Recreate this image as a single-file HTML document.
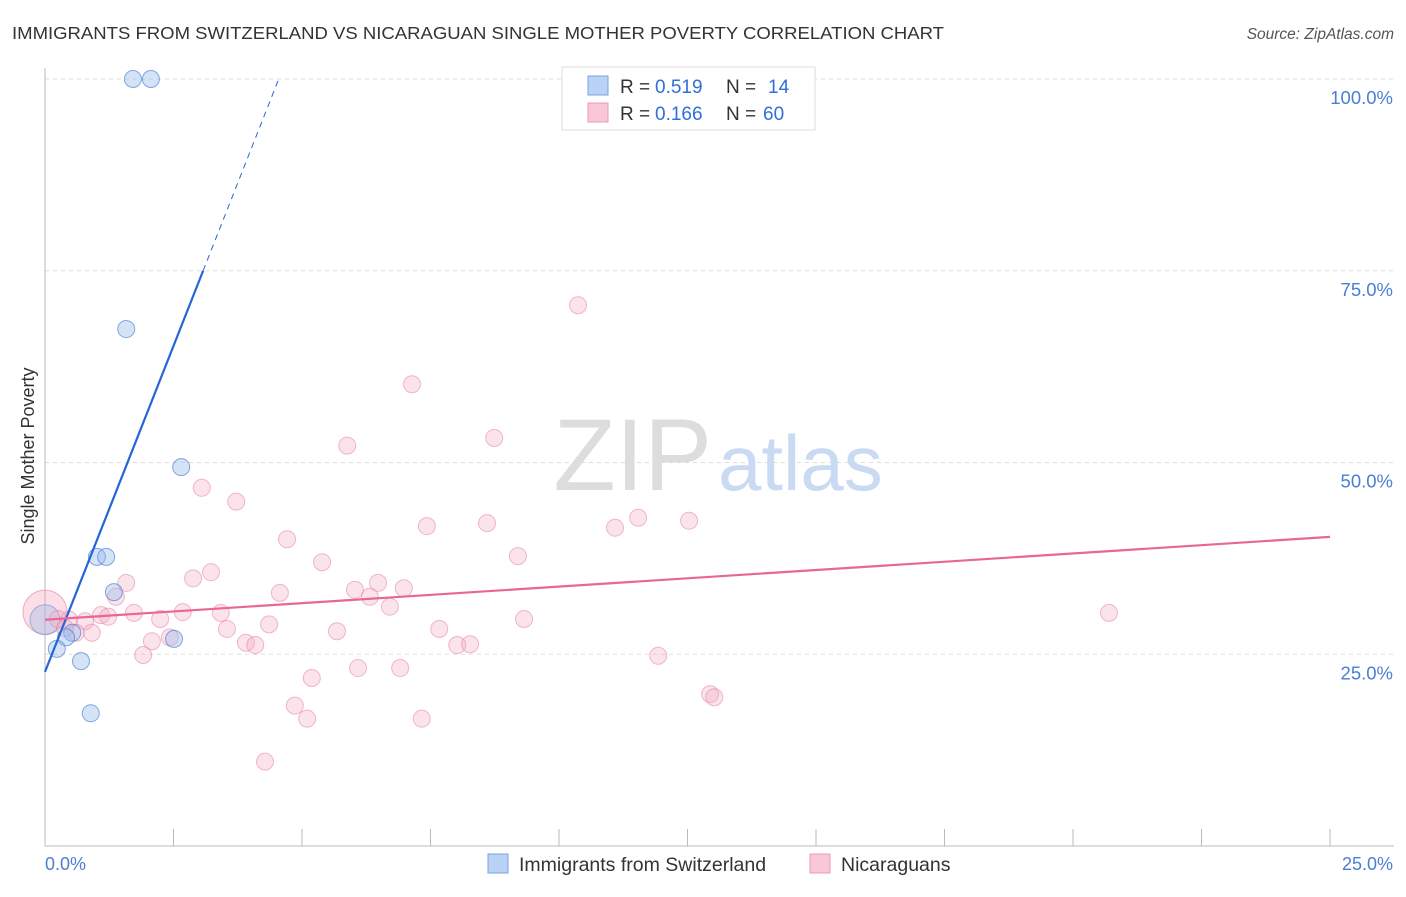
<!DOCTYPE html>
<html><head><meta charset="utf-8"><style>
body{margin:0;background:#fff;font-family:"Liberation Sans",sans-serif}
svg text{font-family:"Liberation Sans",sans-serif}
</style></head><body>
<svg id="c" width="1406" height="892">
<text x="12" y="39" font-size="17.5" fill="#333" textLength="932" lengthAdjust="spacingAndGlyphs">IMMIGRANTS FROM SWITZERLAND VS NICARAGUAN SINGLE MOTHER POVERTY CORRELATION CHART</text>
<text x="1394" y="39" font-size="15.5" fill="#555" font-style="italic" text-anchor="end">Source: ZipAtlas.com</text>
<text x="34" y="456" font-size="18" fill="#333" transform="rotate(-90 34 456)" text-anchor="middle">Single Mother Poverty</text>
<g id="grid"></g>
<text x="712" y="490" font-size="102" fill="#ddd" text-anchor="end" font-family="Liberation Serif">ZIP</text>
<text x="718" y="490" font-size="78" fill="#c9daf2">atlas</text>
<g id="marks"></g>
<g>
<rect x="562" y="67" width="253" height="63" fill="#fff" stroke="#ddd"/>
<rect x="588" y="76" width="20" height="19" fill="#b9d2f5" stroke="#7aa3e0"/>
<rect x="588" y="103" width="20" height="19" fill="#f9c7d6" stroke="#ec9ab5"/>
<text x="620" y="93" font-size="19" fill="#333">R =</text>
<text x="655" y="93" font-size="19" fill="#2f6fd6">0.519</text>
<text x="726" y="93" font-size="19" fill="#333">N =</text>
<text x="768" y="93" font-size="19" fill="#2f6fd6">14</text>
<text x="620" y="120" font-size="19" fill="#333">R =</text>
<text x="655" y="120" font-size="19" fill="#2f6fd6">0.166</text>
<text x="726" y="120" font-size="19" fill="#333">N =</text>
<text x="763" y="120" font-size="19" fill="#2f6fd6">60</text>
</g>
<text x="45" y="870" font-size="18" fill="#4a7fd4">0.0%</text>
<text x="1393" y="870" font-size="18" fill="#4a7fd4" text-anchor="end">25.0%</text>
<g>
<rect x="488" y="854" width="20" height="19" fill="#b9d2f5" stroke="#7aa3e0"/>
<text x="519" y="871" font-size="19.5" fill="#333">Immigrants from Switzerland</text>
<rect x="810" y="854" width="20" height="19" fill="#f9c7d6" stroke="#ec9ab5"/>
<text x="841" y="871" font-size="19.5" fill="#333">Nicaraguans</text>
</g>
</svg>
<script>
const yTicks=[25,50,75,100];
const xTicks=[0,2.5,5,7.5,10,12.5,15,17.5,20,22.5,25];
const blueX=[1.71,2.06,1.58,2.65,1.01,1.19,1.34,0.53,0.41,2.51,0.23,0.70,0.89];
const blueY=[100,100,67.4,49.4,37.7,37.7,33.1,27.8,27.2,27.0,25.7,24.1,17.3];
const pinkX=[10.37,7.14,8.74,5.88,3.05,3.72,7.43,8.60,11.09,11.54,12.53,4.71,9.20,5.39,3.23,2.88,1.58,6.48,6.98,6.03,6.32,1.38,4.57,6.71,1.09,1.23,1.73,2.68,3.42,2.24,20.70,9.32,0.47,0.78,0.25,3.54,4.36,5.68,7.67,0.91,0.60,2.43,2.08,3.91,4.09,8.02,8.27,1.91,11.93,6.09,6.91,5.19,12.94,13.02,4.86,5.10,7.33,4.28,0.39];
const pinkY=[70.5,60.2,53.2,52.2,46.7,44.9,41.7,42.1,41.5,42.8,42.4,40.0,37.8,37.0,35.7,34.9,34.3,34.3,33.6,33.4,32.5,32.5,33.0,31.2,30.1,29.9,30.4,30.5,30.4,29.6,30.4,29.6,29.5,29.3,29.6,28.3,28.9,28.0,28.3,27.8,27.8,27.2,26.7,26.5,26.2,26.2,26.3,24.9,24.8,23.2,23.2,21.9,19.8,19.4,18.3,16.6,16.6,11.0,28.4];
const blueBig=[0,29.5];
const pinkBig=[0,30.5];
const blueFit=[22.7,17.0];
const pinkFit=[29.5,0.432];
const X=v=>45+v*51.4, Y=v=>846-v*7.67;
const NS='http://www.w3.org/2000/svg';
function mk(p,t,a){const e=document.createElementNS(NS,t);for(const k in a)e.setAttribute(k,a[k]);p.appendChild(e);return e;}
const g=document.getElementById('grid'),m=document.getElementById('marks');
yTicks.forEach(t=>{
 const l=mk(g,'line',{x1:45,x2:1394,y1:Y(t),y2:Y(t),stroke:'#ddd','stroke-dasharray':'4,4'});
 
 
 const tx=mk(g,'text',{x:1393,y:Y(t)+25,'font-size':18.5,fill:'#4a7fd4','text-anchor':'end'});
 tx.textContent=t.toFixed(1)+'%';
 
 
});
mk(g,'line',{x1:45,x2:45,y1:68,y2:846,stroke:'#bbb'});
mk(g,'line',{x1:45,x2:1394,y1:846,y2:846,stroke:'#bbb'});
xTicks.forEach(t=>{
 const l=mk(g,'line',{x1:X(t),x2:X(t),y1:829,y2:846,stroke:'#bbb'});
 
 
});
function pt(x,y,r,f,s,n){const c=mk(m,'circle',{cx:X(x),cy:Y(y),r:r,fill:f,stroke:s,'stroke-width':1});
 
 }
pt(pinkBig[0],pinkBig[1],22,'rgba(244,160,185,0.35)','rgba(230,120,155,0.55)','pink-point-large');
pt(blueBig[0],blueBig[1],15,'rgba(150,185,235,0.35)','rgba(90,140,215,0.55)','blue-point-large');
pinkX.forEach((x,i)=>pt(x,pinkY[i],8.5,'rgba(244,170,195,0.33)','rgba(230,130,165,0.55)','pink-point'));
blueX.forEach((x,i)=>pt(x,blueY[i],8.5,'rgba(150,185,235,0.4)','rgba(70,125,210,0.65)','blue-point'));
const xs=(75-blueFit[0])/blueFit[1], xe=(100-blueFit[0])/blueFit[1];
let l=mk(m,'line',{x1:X(0),y1:Y(blueFit[0]),x2:X(xs),y2:Y(75),stroke:'#2466d4','stroke-width':2.2});


l=mk(m,'line',{x1:X(xs),y1:Y(75),x2:X(xe),y2:Y(100),stroke:'#2466d4','stroke-width':1,'stroke-dasharray':'6,5'});


l=mk(m,'line',{x1:X(0),y1:Y(pinkFit[0]),x2:X(25),y2:Y(pinkFit[0]+pinkFit[1]*25),stroke:'#e8669a','stroke-width':2.2});


</script>
</body></html>
